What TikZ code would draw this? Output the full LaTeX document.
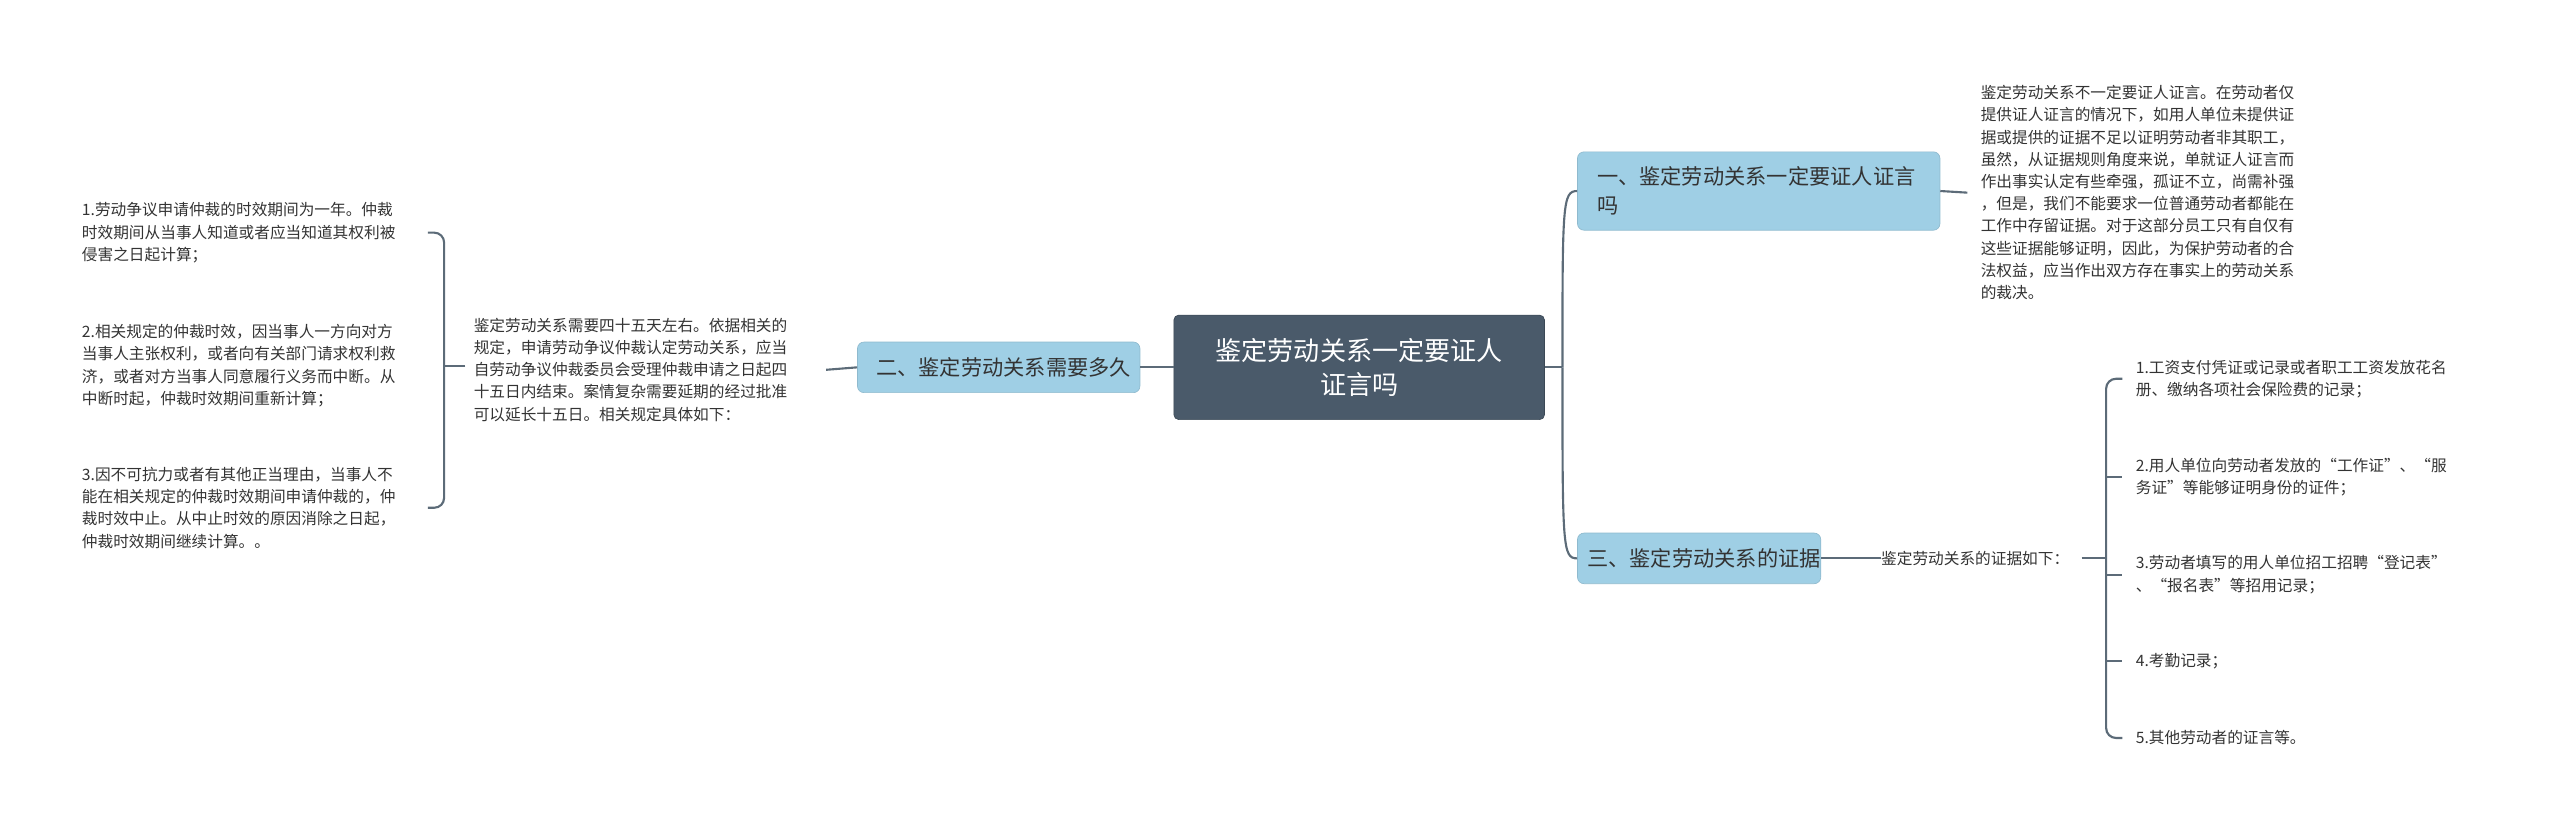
\documentclass[tikz,border=0pt]{standalone}
\usepackage{fontspec}
\setmainfont{Noto Sans CJK SC}
\definecolor{dark}{HTML}{4A5A6A}
\definecolor{lb}{HTML}{9FCFE5}
\definecolor{ln}{HTML}{5C6B78}
\definecolor{tx}{HTML}{333333}
\begin{document}
\begin{tikzpicture}[x=1pt,y=-1pt,
 main/.style={fill=dark,draw=dark!80!black,rounded corners=3,text=white,font=\fontsize{16}{21}\selectfont,align=center,minimum width=227,minimum height=64,inner sep=0},
 sub/.style={fill=lb,draw=lb!90!black,rounded corners=4,text=tx,font=\fontsize{13}{18}\selectfont,align=left,inner sep=0,anchor=west},
 leaf/.style={text=tx,font=\fontsize{9.6}{13.6}\selectfont,align=left,inner sep=0,anchor=west},
 con/.style={draw=ln,line width=1.3pt}]
\useasboundingbox (0,0) rectangle (1568,508);
\node[main] (c) at (832.5,225) {鉴定劳动关系一定要证人\\证言吗};
\node[sub,minimum width=222,minimum height=48,text width=210,align=left] (r1) at (966,117) {\hspace*{6pt}一、鉴定劳动关系一定要证人证言\\\hspace*{6pt}吗};
\node[sub,minimum width=133,minimum height=31] (r3) at (966,342) {\hspace*{6pt}三、鉴定劳动关系的证据};
\node[sub,minimum width=173,minimum height=31] (l2) at (525,225) {\hspace*{6pt}二、鉴定劳动关系需要多久};
\node[leaf] (r1t) at (1213,118) {鉴定劳动关系不一定要证人证言。在劳动者仅\\提供证人证言的情况下，如用人单位未提供证\\据或提供的证据不足以证明劳动者非其职工，\\虽然，从证据规则角度来说，单就证人证言而\\作出事实认定有些牵强，孤证不立，尚需补强\\，但是，我们不能要求一位普通劳动者都能在\\工作中存留证据。对于这部分员工只有自仅有\\这些证据能够证明，因此，为保护劳动者的合\\法权益，应当作出双方存在事实上的劳动关系\\的裁决。};
\node[leaf] (r3t) at (1152,342) {鉴定劳动关系的证据如下：};
\node[leaf] (i1) at (1308,232) {1.工资支付凭证或记录或者职工工资发放花名\\册、缴纳各项社会保险费的记录；};
\node[leaf] (i2) at (1308,292) {2.用人单位向劳动者发放的“工作证”、“服\\务证”等能够证明身份的证件；};
\node[leaf] (i3) at (1308,352) {3.劳动者填写的用人单位招工招聘“登记表”\\、“报名表”等招用记录；};
\node[leaf] (i4) at (1308,405) {4.考勤记录；};
\node[leaf] (i5) at (1308,452) {5.其他劳动者的证言等。};
\node[leaf] (l2t) at (290,226.5) {鉴定劳动关系需要四十五天左右。依据相关的\\规定，申请劳动争议仲裁认定劳动关系，应当\\自劳动争议仲裁委员会受理仲裁申请之日起四\\十五日内结束。案情复杂需要延期的经过批准\\可以延长十五日。相关规定具体如下：};
\node[leaf] (j1) at (50,142.5) {1.劳动争议申请仲裁的时效期间为一年。仲裁\\时效期间从当事人知道或者应当知道其权利被\\侵害之日起计算；};
\node[leaf] (j2) at (50,224) {2.相关规定的仲裁时效，因当事人一方向对方\\当事人主张权利，或者向有关部门请求权利救\\济，或者对方当事人同意履行义务而中断。从\\中断时起，仲裁时效期间重新计算；};
\node[leaf] (j3) at (50,311) {3.因不可抗力或者有其他正当理由，当事人不\\能在相关规定的仲裁时效期间申请仲裁的，仲\\裁时效中止。从中止时效的原因消除之日起，\\仲裁时效期间继续计算。。};
% connectors
\coordinate (cr) at (957,225);
\draw[con] (c.east) -- (cr);
\draw[con] (cr) to[out=90,in=180,looseness=1] ++(0,0) (957,225) .. controls (957,125) and (957,117) .. (r1.west);
\draw[con] (957,225) .. controls (957,335) and (957,342) .. (r3.west);
\draw[con] (c.west) -- (l2.east);
\draw[con] (r1.east) -- (r1t.west -| 1205,0) -- (1205,118);
\draw[con] (r3.east) -- (r3t.west);
\draw[con] (l2.west) -- (l2t.east -| 506,0) -- (506,226.5);
% right bracket
\coordinate (rb) at (1281,342);
\draw[con] (1275,342) -- (rb);
\draw[con,rounded corners=6] (1300,232) -- (1290,232) -- (1290,452) -- (1300,452);
\foreach \y in {292,352,405}{\draw[con] (1290,\y) -- (1300,\y);}
\draw[con] (1281,342) -- (1290,342);
% left bracket
\draw[con] (285,224) -- (272,224);
\draw[con,rounded corners=6] (262,142.5) -- (272,142.5) -- (272,311) -- (262,311);
\end{tikzpicture}
\end{document}
